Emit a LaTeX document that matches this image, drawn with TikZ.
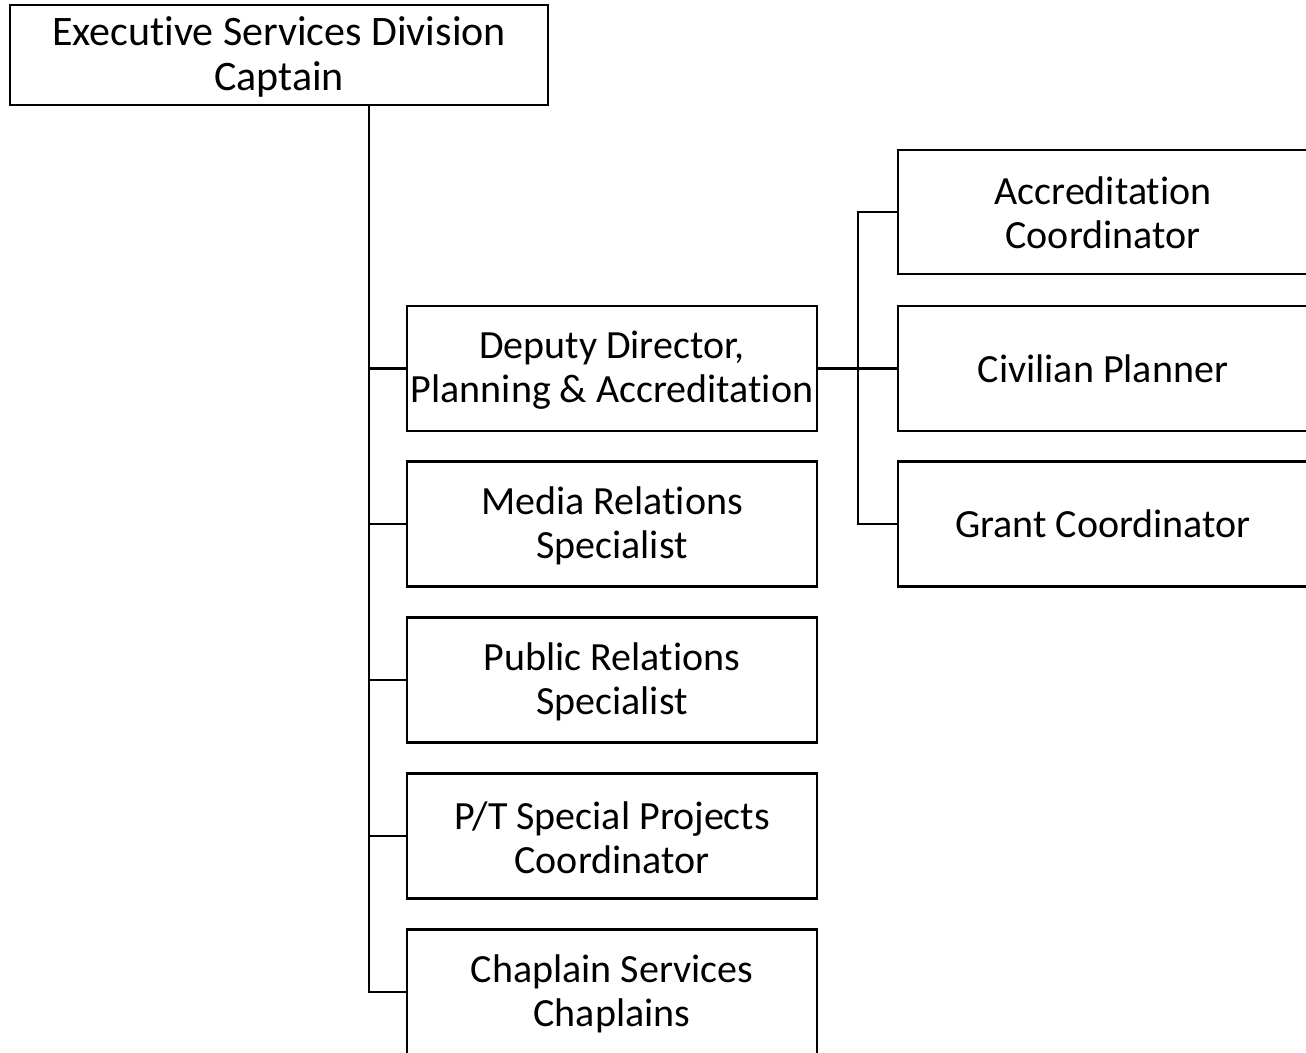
\documentclass[tikz,border=0pt]{standalone}
\usepackage{fontspec}
\setmainfont[Ligatures=NoCommon,RawFeature=-clig,RawFeature=-calt]{Carlito}
\begin{document}
\begin{tikzpicture}[x=1pt,y=-1pt,
  box/.style={draw=black,line width=2.5pt,rectangle,inner sep=0pt,
    minimum width=410pt,minimum height=125pt,font=\fontsize{40}{44}\selectfont},
  lbl/.style={align=center,inner sep=0pt,font=\fontsize{40}{44}\selectfont},
  conn/.style={draw=black,line width=2.5pt}]
\useasboundingbox (0,0) rectangle (1306,1052);
\clip (0,0) rectangle (1306,1052);
\fill[white] (0,0) rectangle (1306,1052);
\node[box,minimum width=538pt,minimum height=100pt] (top) at (279,55) {};
\node[lbl,font=\fontsize{42}{45}\selectfont] (toptxt) at (279,57) {Executive Services Division\\Captain};
\node[box] (dep) at (612,368.5) {};
\node[lbl] (deptxt) at (612,370.5) {Deputy Director,\\Planning \& Accreditation};
\node[box] (media) at (612,524) {};
\node[lbl] (mediatxt) at (612,526) {Media Relations\\Specialist};
\node[box] (pub) at (612,680) {};
\node[lbl] (pubtxt) at (612,682) {Public Relations\\Specialist};
\node[box] (pt) at (612,836) {};
\node[lbl] (pttxt) at (612,838) {P/T Special Projects\\Coordinator};
\node[box] (chap) at (612,992) {};
\node[lbl] (chaptxt) at (612,994) {Chaplain Services\\Chaplains};
\node[box,minimum height=124pt] (acc) at (1103,212) {};
\node[lbl] (acctxt) at (1103,213) {Accreditation\\Coordinator};
\node[box] (civ) at (1103,368.5) {Civilian Planner};
\node[box] (grant) at (1103,524) {Grant Coordinator};
\coordinate (t) at (369,105);
\coordinate (rx) at (858,368.5);
\draw[conn] (t) |- (chap.west);
\draw[conn] (t) |- (dep.west);
\draw[conn] (t) |- (media.west);
\draw[conn] (t) |- (pub.west);
\draw[conn] (t) |- (pt.west);
\draw[conn] (dep.east) -- (civ.west);
\draw[conn] (acc.west) -| (rx);
\draw[conn] (grant.west) -| (rx);
\end{tikzpicture}
\end{document}
